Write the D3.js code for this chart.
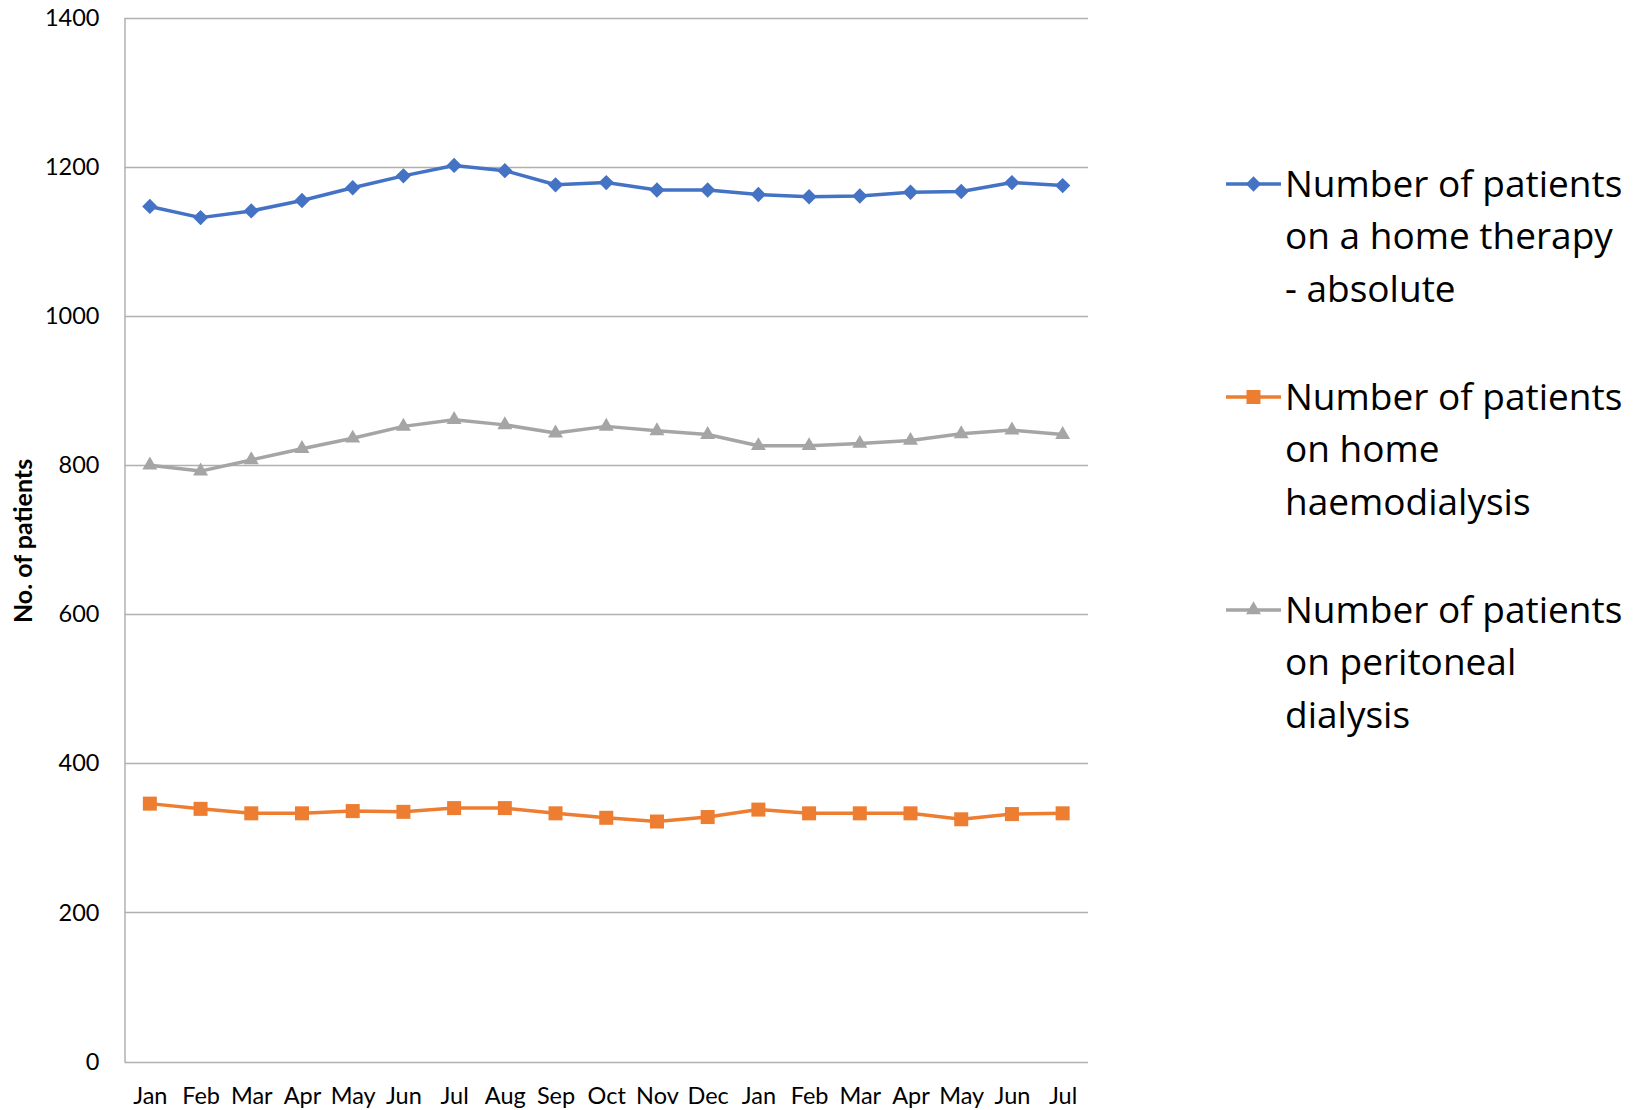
<!DOCTYPE html>
<html>
<head>
<meta charset="utf-8">
<script src="https://cdn.jsdelivr.net/npm/d3@7"></script>
<style>
  html, body { margin: 0; padding: 0; background: #fff; }
  svg { display: block; }
</style>
</head>
<body>
<svg id="chart" width="1640" height="1110"></svg>
<script>
// Month labels along the x axis (two consecutive years, Jan to Jul)
const months = ["Jan","Feb","Mar","Apr","May","Jun","Jul","Aug","Sep","Oct","Nov","Dec",
                "Jan","Feb","Mar","Apr","May","Jun","Jul"];

// Monthly patient counts
const homeTherapy = [1147,1132,1141,1155,1172,1188,1202,1195,1176,1179,1169,1169,1163,1160,1161,1166,1167,1179,1175];
const homeHaemo   = [346,339,333,333,336,335,340,340,333,327,322,328,338,333,333,333,325,332,333];
const peritoneal  = [800,792,807,822,836,852,861,854,843,852,846,841,826,826,829,833,842,847,841];

const yTicks = [0,200,400,600,800,1000,1200,1400];

const seriesNames = [
  ["Number of patients", "on a home therapy", "- absolute"],
  ["Number of patients", "on home", "haemodialysis"],
  ["Number of patients", "on peritoneal", "dialysis"]
];

const series = [
  { values: homeTherapy, color: "#4472C4", symbol: d3.symbolDiamond2,  size: 150 },
  { values: homeHaemo,   color: "#ED7D31", symbol: d3.symbolSquare2,   size: 250 },
  { values: peritoneal,  color: "#A5A5A5", symbol: d3.symbolTriangle2, size: 160 }
];

const svg = d3.select("#chart");
const margin = { left: 124.5, right: 1088, top: 17.8, bottom: 1061.6 };

const x = d3.scalePoint()
  .domain(d3.range(months.length))
  .range([margin.left, margin.right])
  .padding(0.5);

const y = d3.scaleLinear()
  .domain([0, 1400])
  .range([margin.bottom, margin.top]);

const tickFont = "Lato, 'Open Sans', sans-serif";

// Horizontal gridlines
svg.append("g")
  .selectAll("line")
  .data(yTicks)
  .join("line")
  .attr("x1", margin.left)
  .attr("x2", margin.right)
  .attr("y1", d => Math.round(y(d)) + 0.5)
  .attr("y2", d => Math.round(y(d)) + 0.5)
  .attr("stroke", "#b0b0b0")
  .attr("stroke-width", 1.5);

// Y axis
const yAxis = svg.append("g")
  .attr("transform", `translate(${margin.left},0)`)
  .call(d3.axisLeft(y).tickValues(yTicks).tickSize(0).tickPadding(25).tickFormat(d3.format("d")));
yAxis.select(".domain").attr("stroke", "#b0b0b0").attr("stroke-width", 1.5);
yAxis.selectAll("text")
  .attr("font-family", tickFont)
  .attr("font-size", 23.5)
  .attr("fill", "#000");

// X axis
const xAxis = svg.append("g")
  .attr("transform", `translate(0,${margin.bottom})`)
  .call(d3.axisBottom(x).tickSize(0).tickPadding(26).tickFormat(i => months[i]));
xAxis.select(".domain").remove();
xAxis.selectAll("text")
  .attr("font-family", tickFont)
  .attr("font-size", 23.5)
  .attr("fill", "#000");

// Y axis title
svg.append("text")
  .attr("transform", "translate(32,541) rotate(-90)")
  .attr("text-anchor", "middle")
  .attr("font-family", tickFont)
  .attr("font-weight", "bold")
  .attr("font-size", 25)
  .attr("fill", "#000")
  .text("No. of patients");

// Lines and markers
const line = d3.line()
  .x((d, i) => x(i))
  .y(d => y(d));

series.forEach(s => {
  const g = svg.append("g");
  g.append("path")
    .datum(s.values)
    .attr("d", line)
    .attr("fill", "none")
    .attr("stroke", s.color)
    .attr("stroke-width", 3.5)
    .attr("stroke-linejoin", "round");
  g.selectAll("path.marker")
    .data(s.values)
    .join("path")
    .attr("class", "marker")
    .attr("transform", (d, i) => `translate(${x(i)},${y(d)})`)
    .attr("d", d3.symbol().type(s.symbol).size(s.size))
    .attr("fill", s.color);
});

// Legend
const legendFont = "'Open Sans', 'Noto Sans', sans-serif";
const legend = svg.append("g");
series.forEach((s, k) => {
  const top = 184 + k * 213;
  const g = legend.append("g").attr("transform", `translate(0,${top})`);
  g.append("line")
    .attr("x1", 1226).attr("x2", 1281)
    .attr("y1", 0).attr("y2", 0)
    .attr("stroke", s.color)
    .attr("stroke-width", 3.5);
  g.append("path")
    .attr("transform", "translate(1253.5,0)")
    .attr("d", d3.symbol().type(s.symbol).size(s.size))
    .attr("fill", s.color);
  const t = g.append("text")
    .attr("font-family", legendFont)
    .attr("font-size", 37)
    .attr("fill", "#000");
  seriesNames[k].forEach((ln, j) => {
    t.append("tspan").attr("x", 1285).attr("y", j * 52.3).attr("dy", "0.35em").text(ln);
  });
});
</script>
</body>
</html>
